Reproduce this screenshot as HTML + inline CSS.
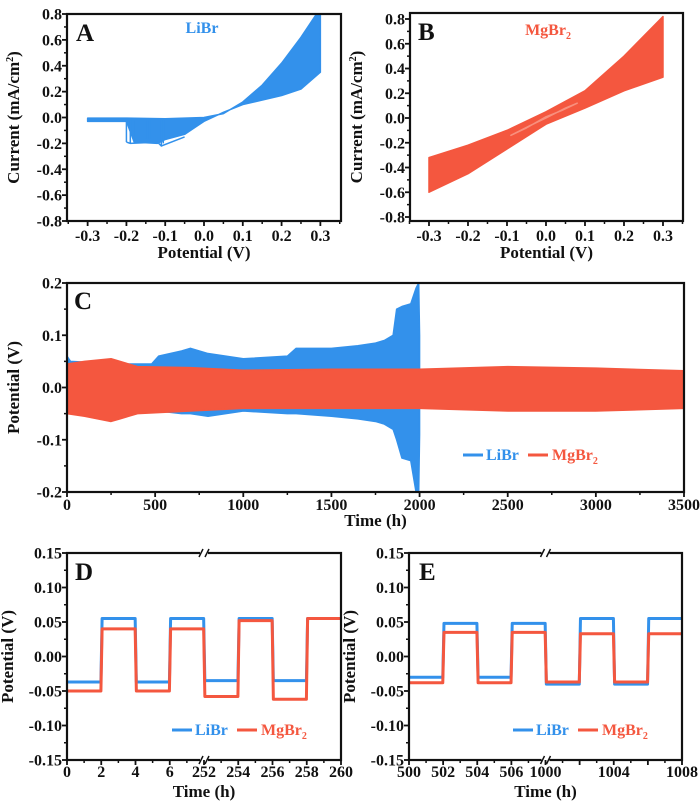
<!DOCTYPE html>
<html><head><meta charset="utf-8">
<style>
html,body{margin:0;padding:0;background:#fff;}
svg{display:block;}
svg text{font-family:"Liberation Serif","DejaVu Serif","Times New Roman",serif;font-weight:bold;}
</style></head>
<body>
<svg id="fig" width="700" height="807" viewBox="0 0 700 807" xmlns="http://www.w3.org/2000/svg" font-family="Liberation Serif, DejaVu Serif, serif" font-weight="bold"></svg>
<script>
// ---------- DATA ----------
// Panel A (LiBr CV) envelope
const aUpperV = [-0.3,-0.2,-0.1,0.0,0.05,0.1,0.15,0.2,0.25,0.29,0.3];
const aUpperI = [-0.005,-0.005,-0.01,0.0,0.03,0.12,0.25,0.42,0.62,0.8,0.8];
const aLowerV = [0.3,0.25,0.2,0.1,0.05,0.0,-0.05,-0.1,-0.12,-0.18,-0.2,-0.3];
const aLowerI = [0.35,0.22,0.17,0.1,0.04,-0.03,-0.13,-0.17,-0.2,-0.19,-0.03,-0.03];
const aStepV = [-0.2,-0.19,-0.18,-0.15,-0.14,-0.11,-0.105];
const aStepLo = [-0.19,-0.2,-0.18,-0.16,-0.17,-0.22,-0.2];
// Panel B (MgBr2 CV) envelope
const bUpperV = [-0.3,-0.2,-0.1,0.0,0.1,0.2,0.3];
const bUpperI = [-0.32,-0.22,-0.1,0.05,0.22,0.5,0.82];
const bLowerV = [0.3,0.2,0.1,0.0,-0.1,-0.2,-0.3];
const bLowerI = [0.33,0.22,0.08,-0.05,-0.25,-0.45,-0.6];
const bHoleV = [-0.09,-0.04,0.0,0.05,0.08,0.04,0.0,-0.05];
const bHoleI = [-0.14,-0.06,0.0,0.08,0.12,0.06,0.01,-0.08];
// Panel C
const cLiT = [0,20,300,480,520,650,700,800,900,1000,1250,1300,1500,1650,1750,1800,1850,1870,1900,1950,1980,1995,2000];
const cLiUp = [0.06,0.05,0.045,0.045,0.06,0.07,0.075,0.065,0.06,0.055,0.06,0.075,0.075,0.08,0.085,0.09,0.1,0.15,0.155,0.16,0.19,0.2,0.1];
const cLiLo = [-0.05,-0.05,-0.045,-0.045,-0.045,-0.05,-0.05,-0.055,-0.05,-0.045,-0.05,-0.05,-0.055,-0.06,-0.065,-0.07,-0.08,-0.1,-0.135,-0.14,-0.2,-0.2,-0.09];
const cMgT = [0,100,250,300,400,700,1000,1500,2000,2500,3000,3500];
const cMgUp = [0.045,0.05,0.055,0.05,0.04,0.038,0.033,0.035,0.035,0.04,0.037,0.032];
const cMgLo = [-0.05,-0.055,-0.065,-0.06,-0.05,-0.045,-0.04,-0.04,-0.04,-0.045,-0.045,-0.04];
// Panel D square waves (8 half-cycles of 2 h each)
const dLiLevels = [-0.037,0.055,-0.037,0.055,-0.035,0.055,-0.035,0.055];
const dMgLevels = [-0.05,0.04,-0.05,0.04,-0.058,0.052,-0.062,0.055];
const dXLabels = ["0","2","4","6","252","254","256","258","260"];
// Panel E
const eLiLevels = [-0.03,0.048,-0.03,0.048,-0.04,0.055,-0.04,0.055];
const eMgLevels = [-0.038,0.035,-0.038,0.035,-0.037,0.033,-0.037,0.033];
const eXLabels = ["500","502","504","506","1000","","1004","","1008"];

const BLUE="#3391eb", RED="#f4573f";
const NS="http://www.w3.org/2000/svg";
const svg=document.getElementById('fig');
function el(tag,attrs,parent){const e=document.createElementNS(NS,tag);for(const k in attrs)e.setAttribute(k,attrs[k]);(parent||svg).appendChild(e);return e;}
function txt(s,attrs,parent){const e=el('text',attrs,parent);e.textContent=s;return e;}
function scale(d0,d1,r0,r1){return v=>r0+(v-d0)*(r1-r0)/(d1-d0);}

function panel(name,box,xd,yd){
  const g=el('g',{});
  
  
  return {g,box,x:scale(xd[0],xd[1],box.x0,box.x1),y:scale(yd[0],yd[1],box.y1,box.y0)};
}
function frame(p){
  const b=p.box;
  const r=el('rect',{x:b.x0,y:b.y0,width:b.x1-b.x0,height:b.y1-b.y0,fill:'none',stroke:'#111','stroke-width':2.2},p.g);
  
  
}
function yTicks(p,vals,labels,minor){
  const ga=el('g',{},p.g);
  
  
  vals.forEach((v,i)=>{const yy=p.y(v);
    el('line',{x1:p.box.x0-5,x2:p.box.x0,y1:yy,y2:yy,stroke:'#111','stroke-width':1.8},ga);
    const t=txt(labels[i],{x:p.box.x0-5,y:yy+5.5,'text-anchor':'end','font-size':16,fill:'#111'},ga);
    
    
  });
  minor.forEach(v=>{const yy=p.y(v);el('line',{x1:p.box.x0-3,x2:p.box.x0,y1:yy,y2:yy,stroke:'#111','stroke-width':1.5},ga);});
}
function xTicks(p,vals,labels,minor,ly){
  const ga=el('g',{},p.g);
  
  
  vals.forEach((v,i)=>{const xx=p.x(v);
    el('line',{x1:xx,x2:xx,y1:p.box.y1,y2:p.box.y1+5,stroke:'#111','stroke-width':1.8},ga);
    if(labels[i]){const t=txt(labels[i],{x:xx,y:ly,'text-anchor':'middle','font-size':16,fill:'#111'},ga);
    
    }
  });
  minor.forEach(v=>{const xx=p.x(v);el('line',{x1:xx,x2:xx,y1:p.box.y1,y2:p.box.y1+3,stroke:'#111','stroke-width':1.5},ga);});
}
function titles(p,xt,xty,yt,ytx){
  const a=txt(xt,{x:(p.box.x0+p.box.x1)/2,y:xty,'text-anchor':'middle','font-size':17,fill:'#111'},p.g);
  
  
  const cy=(p.box.y0+p.box.y1)/2;
  const b=el('text',{x:ytx,y:cy,'text-anchor':'middle','font-size':17,fill:'#111',transform:`rotate(-90 ${ytx} ${cy})`},p.g);
  b.innerHTML=yt;
  
  
}
function letter(p,s,x,y){const t=txt(s,{x,y,'font-size':25,fill:'#111'},p.g);
  
  }
function range(a,b,s){const r=[];for(let v=a;v<=b+1e-9;v+=s)r.push(+v.toFixed(4));return r;}
function poly(p,xs,ys,xs2,ys2,fill,name){
  let pts=xs.map((v,i)=>p.x(v)+','+p.y(ys[i]));
  if(xs2)pts=pts.concat(xs2.map((v,i)=>p.x(v)+','+p.y(ys2[i])));
  const e=el('polygon',{points:pts.join(' '),fill,stroke:fill,'stroke-width':1.5,'stroke-linejoin':'round'},p.g);
  
  
  return e;
}
function legend(p,x,y){
  const g=el('g',{},p.g);
  
  
  el('line',{x1:x,x2:x+20,y1:y-5,y2:y-5,stroke:BLUE,'stroke-width':3},g);
  const t1=txt('LiBr',{x:x+23,y:y,'font-size':16,fill:BLUE},g);
  
  
  el('line',{x1:x+65,x2:x+85,y1:y-5,y2:y-5,stroke:RED,'stroke-width':3},g);
  const t2=el('text',{x:x+89,y:y,'font-size':16,fill:RED},g);
  t2.innerHTML='MgBr<tspan font-size="10" dy="4">2</tspan>';
  
  
}

// ---------- Panel A ----------
{
 const p=panel('panel-a',{x0:67,x1:341,y0:14,y1:221},[-0.3532,0.3532],[-0.8,0.8]);
 poly(p,aUpperV,aUpperI,aLowerV,aLowerI,BLUE,'libr-cv-band');
 aStepV.forEach((v,i)=>{const l=el('line',{x1:p.x(v),x2:p.x(v),y1:p.y(-0.02),y2:p.y(aStepLo[i]),stroke:BLUE,'stroke-width':1.5},p.g);
   
   });
 el('polyline',{points:[[-0.2,-0.19],[-0.19,-0.2],[-0.12,-0.19],[-0.11,-0.22],[-0.05,-0.15]].map(q=>p.x(q[0])+','+p.y(q[1])).join(' '),fill:'none',stroke:BLUE,'stroke-width':1.5},p.g);
 frame(p);
 yTicks(p,range(-0.8,0.8,0.2),['-0.8','-0.6','-0.4','-0.2','0.0','0.2','0.4','0.6','0.8'],range(-0.7,0.7,0.2));
 xTicks(p,range(-0.3,0.3,0.1),['-0.3','-0.2','-0.1','0.0','0.1','0.2','0.3'],range(-0.35,0.35,0.1),241);
 titles(p,'Potential (V)',258,'Current (mA/cm<tspan font-size="10" dy="-6">2</tspan><tspan dy="6">)</tspan>',19);
 letter(p,'A',76,41);
 const t=txt('LiBr',{x:202,y:33,'text-anchor':'middle','font-size':16,fill:BLUE},p.g);
 
 
}
// ---------- Panel B ----------
{
 const p=panel('panel-b',{x0:410,x1:683,y0:13,y1:221},[-0.3487,0.3513],[-0.8323,0.8485]);
 poly(p,bUpperV,bUpperI,bLowerV,bLowerI,RED,'mgbr2-cv-band');
 poly(p,bHoleV,bHoleI,null,null,'#f8907e','cv-inner-loop');
 frame(p);
 yTicks(p,range(-0.8,0.8,0.2),['-0.8','-0.6','-0.4','-0.2','0.0','0.2','0.4','0.6','0.8'],range(-0.7,0.7,0.2));
 xTicks(p,range(-0.3,0.3,0.1),['-0.3','-0.2','-0.1','0.0','0.1','0.2','0.3'],range(-0.35,0.35,0.1),241);
 titles(p,'Potential (V)',258,'Current (mA/cm<tspan font-size="10" dy="-6">2</tspan><tspan dy="6">)</tspan>',362);
 letter(p,'B',418,40);
 const t=el('text',{x:548,y:35,'text-anchor':'middle','font-size':16,fill:RED},p.g);
 t.innerHTML='MgBr<tspan font-size="10" dy="4">2</tspan>';
 
 
}
// ---------- Panel C ----------
{
 const p=panel('panel-c',{x0:67,x1:684,y0:283,y1:492},[0,3500],[-0.2,0.2]);
 poly(p,cLiT,cLiUp,cLiT.slice().reverse(),cLiLo.slice().reverse(),BLUE,'libr-voltage-band');
 poly(p,cMgT,cMgUp,cMgT.slice().reverse(),cMgLo.slice().reverse(),RED,'mgbr2-voltage-band');
 frame(p);
 yTicks(p,[-0.2,-0.1,0,0.1,0.2],['-0.2','-0.1','0.0','0.1','0.2'],[-0.15,-0.05,0.05,0.15]);
 xTicks(p,range(0,3500,500),['0','500','1000','1500','2000','2500','3000','3500'],range(250,3250,500),510);
 titles(p,'Time (h)',526,'Potential (V)',19);
 letter(p,'C',74,309);
 legend(p,463,460);
}
// ---------- Panels D/E ----------
function squarePanel(name,box,li,mg,xl,let,lx,ytx,legx){
 const p=panel(name,box,[0,16],[-0.15,0.15]);
 [[li,BLUE,'libr-trace'],[mg,RED,'mgbr2-trace']].forEach(([lv,col,nm])=>{
   const pts=[];
   lv.forEach((v,i)=>{const t0=i*2,t1=i*2+2;pts.push([t0+0.05,v],[t1-0.02,v]);});
   const e=el('polyline',{points:pts.map(q=>p.x(q[0])+','+p.y(q[1])).join(' '),fill:'none',stroke:col,'stroke-width':3,'stroke-linejoin':'round'},p.g);
   
   
 });
 frame(p);
 [p.box.y0,p.box.y1].forEach(yy=>{const bx=p.x(8);
   el('rect',{x:bx-4,y:yy-3,width:8,height:6,fill:'#fff'},p.g);
   el('line',{x1:bx-5,x2:bx-1,y1:yy+4,y2:yy-4,stroke:'#111','stroke-width':1.5},p.g);
   el('line',{x1:bx+1,x2:bx+5,y1:yy+4,y2:yy-4,stroke:'#111','stroke-width':1.5},p.g);});
 yTicks(p,range(-0.15,0.15,0.05),['-0.15','-0.10','-0.05','0.00','0.05','0.10','0.15'],range(-0.125,0.125,0.05));
 xTicks(p,range(0,16,2),xl,range(1,15,2),777);
 titles(p,'Time (h)',797,'Potential (V)',ytx);
 letter(p,let,lx,580);
 legend(p,legx,735);
 return p;
}
squarePanel('panel-d',{x0:67,x1:341,y0:553,y1:760},dLiLevels,dMgLevels,dXLabels,'D',75,13,172);
squarePanel('panel-e',{x0:409,x1:682,y0:553,y1:760},eLiLevels,eMgLevels,eXLabels,'E',419,355,513);
</script>
</body></html>
